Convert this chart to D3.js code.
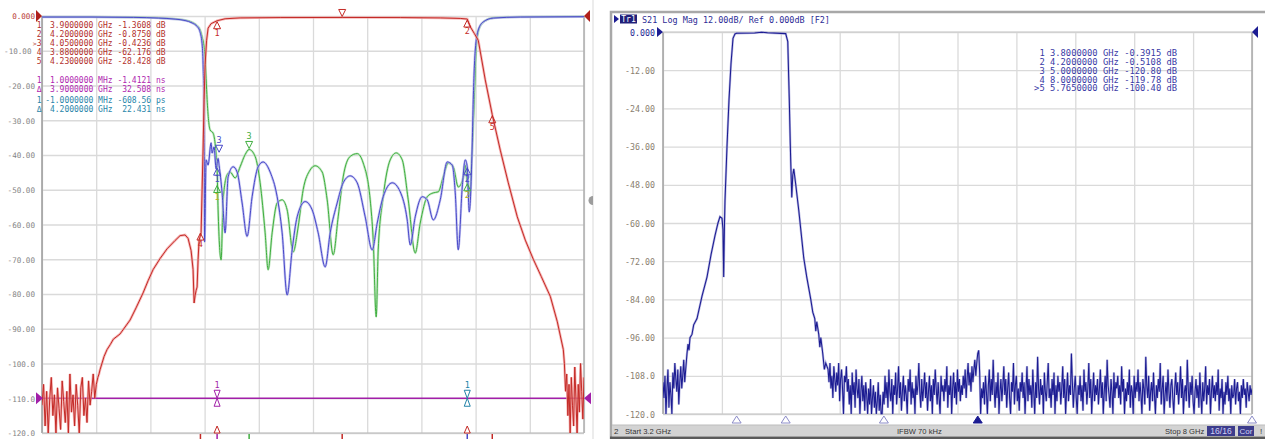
<!DOCTYPE html>
<html><head><meta charset="utf-8">
<script src="https://cdn.jsdelivr.net/npm/d3@7"></script>
<style>body{margin:0;background:#fff;overflow:hidden}svg{display:block}text{white-space:pre}</style>
</head><body>
<svg id="c" width="1265" height="439"></svg>
<script>
// ---------------- LEFT PANEL DATA (filter S-parameters, 10 dB/div) ----------------
const leftSweepGHz = [3.69, 4.34];
const leftDbTicks = [0,-10,-20,-30,-40,-50,-60,-70,-80,-90,-100,-110,-120];
const leftDbLabels = ["0.000","-10.00","-20.00","-30.00","-40.00","-50.00","-60.00","-70.00","-80.00","-90.00","-100.0","-110.0","-120.0"];

// S21 noise floor below 3.757 GHz (sweep points 3.690 .. 3.757)
const s21LowNoiseGHz = [3.690, 3.757];
const s21LowNoise = [-112,-106,-118,-108,-120,-110,-104,-115,-109,-120,-107,-113,-119,-105,-111,-117,-108,-120,-103,-114,-109,-118,-106,-112,-120,-107,-104,-115,-110,-117,-105,-112,-108,-103,-110,-106,-104];
// S21 main response [GHz, dB]
const s21Curve = [[3.7584,-103],[3.7596,-101.8],[3.7644,-98],[3.768,-96],[3.772,-94.5],[3.7756,-93],[3.7836,-91.5],[3.7896,-89.5],[3.7956,-87.5],[3.8028,-84],[3.8112,-79.7],[3.8172,-76.2],[3.8232,-73],[3.8316,-69.8],[3.84,-67],[3.8496,-64.6],[3.8556,-63.2],[3.8616,-63],[3.8652,-64],[3.8688,-67.5],[3.8712,-73],[3.8724,-82.6],[3.8736,-80.5],[3.8748,-79],[3.876,-78],[3.8772,-70],[3.8784,-64.5],[3.8808,-62.4],[3.882,-50],[3.8832,-38],[3.8844,-24],[3.8856,-14],[3.8874,-7],[3.8892,-3.5],[3.8928,-2.2],[3.9,-1.36],[3.9096,-0.8],[3.9276,-0.55],[3.9756,-0.45],[4.05,-0.42],[4.1196,-0.45],[4.1676,-0.55],[4.1916,-0.7],[4.2,-0.875],[4.2036,-3.1],[4.2084,-5],[4.2132,-7],[4.2216,-18.4],[4.23,-28.43],[4.2396,-38.6],[4.2492,-48],[4.26,-57.8],[4.2696,-64.5],[4.2792,-70],[4.2888,-75],[4.2996,-80.7],[4.308,-88],[4.3152,-96]];
// S21 noise floor above 4.3165 GHz
const s21HighNoiseGHz = [4.3165, 4.340];
const s21HighNoise = [-100,-108,-103,-115,-106,-120,-104,-112,-118,-101,-110,-120,-106,-114,-100,-108,-116,-104];

// S11 (blue) [GHz, dB]
const s11Curve = [[3.69,-0.3],[3.75,-0.3],[3.80,-0.4],[3.83,-0.6],[3.8496,-0.9],[3.8616,-1.3],[3.87,-2],[3.876,-3],[3.879,-4.2],[3.882,-8],[3.8832,-14],[3.8844,-30],[3.885,-65],[3.8868,-41.4],[3.8892,-42.9],[3.8928,-36.5],[3.894,-39.4],[3.8964,-37.7],[3.8988,-44],[3.9012,-41],[3.9024,-43],[3.906,-50.9],[3.9096,-62.4],[3.9132,-46.3],[3.9192,-43.4],[3.924,-44.9],[3.93,-53.8],[3.936,-63.4],[3.942,-52],[3.9492,-43.4],[3.9552,-42],[3.9636,-44.9],[3.972,-52],[3.978,-62.4],[3.984,-80.3],[3.99,-67.3],[3.996,-57.8],[4.0056,-53.4],[4.014,-55.8],[4.0212,-62.4],[4.0296,-72.2],[4.0356,-62.4],[4.044,-53.8],[4.0512,-48],[4.0596,-46],[4.068,-48],[4.0776,-57.8],[4.086,-67.3],[4.092,-59.6],[4.0992,-52],[4.11,-48],[4.1196,-50.6],[4.128,-58.7],[4.1316,-65.9],[4.1376,-57.8],[4.146,-52],[4.152,-52.9],[4.1592,-58.7],[4.1676,-52.9],[4.176,-42],[4.182,-42.9],[4.1856,-50.9],[4.1892,-67.3],[4.194,-49.2],[4.1976,-41.4],[4.2,-43.4],[4.2024,-56.4],[4.206,-36.5],[4.2072,-24],[4.2096,-9.8],[4.2132,-4],[4.2192,-1.7],[4.2312,-0.6],[4.2636,-0.3],[4.34,-0.2]];
// S22 (green) [GHz, dB]
const s22Curve = [[3.69,-0.25],[3.75,-0.25],[3.80,-0.35],[3.83,-0.55],[3.8496,-0.85],[3.8616,-1.2],[3.87,-1.8],[3.876,-2.8],[3.8796,-4],[3.882,-6],[3.8844,-9],[3.8856,-12],[3.8868,-18],[3.888,-24],[3.8916,-32.8],[3.8952,-33.7],[3.9,-44.3],[3.9012,-55.8],[3.9048,-70.2],[3.9072,-52.9],[3.912,-45.7],[3.9156,-44.9],[3.9216,-46.6],[3.9276,-43.4],[3.9336,-39.9],[3.9384,-38.4],[3.9456,-40.4],[3.9516,-48],[3.9576,-62.4],[3.9612,-73],[3.966,-62.4],[3.972,-53.8],[3.978,-52.9],[3.984,-55.8],[3.9912,-67.9],[3.9972,-60.7],[4.0032,-50],[4.0116,-44.3],[4.0176,-43.1],[4.026,-44.9],[4.032,-52.9],[4.0392,-68.7],[4.0452,-57.8],[4.0512,-46.3],[4.0596,-40.4],[4.068,-39.6],[4.0752,-42.3],[4.0836,-52.9],[4.0872,-64.4],[4.0908,-86.6],[4.0932,-67.3],[4.0992,-52],[4.1076,-41.4],[4.1148,-39.4],[4.122,-41.4],[4.1292,-52.9],[4.1376,-68.2],[4.1436,-59.6],[4.152,-52],[4.1592,-50.9],[4.1652,-50.6],[4.1712,-46.3],[4.1772,-42.3],[4.1832,-43.4],[4.1892,-49.2],[4.1952,-46.6],[4.1976,-42.9],[4.2,-48],[4.2024,-52],[4.206,-38.4],[4.2084,-24],[4.2108,-9],[4.2144,-3.5],[4.2204,-1.5],[4.2324,-0.5],[4.2636,-0.25],[4.34,-0.15]];
// group delay traces sit on the -110 reference line
const delayLine = [[3.69,-110],[4.34,-110]];

// marker table (left): id, stimulus, unit, response, unit, trace
const leftTable = [
 ["1","3.9000000","GHz","-1.3608","dB","s21"],
 ["2","4.2000000","GHz","-0.8750","dB","s21"],
 [">3","4.0500000","GHz","-0.4236","dB","s21"],
 ["4","3.8800000","GHz","-62.176","dB","s21"],
 ["5","4.2300000","GHz","-28.428","dB","s21"],
 ["1","1.0000000","MHz","-1.4121","ns","gd1"],
 ["Δ","3.9000000","GHz","32.508","ns","gd1"],
 ["1","-1.0000000","MHz","-608.56","ps","gd2"],
 ["Δ","4.2000000","GHz","22.431","ns","gd2"]
];
const leftTableBaselines = [28,37,46,55,64,83,92,103,112];
const s21Markers = [["1",3.9,-1.3608,"up"],["2",4.2,-0.875,"up"],["3",4.05,-0.4236,"down"],["4",3.88,-62.176,"up"],["5",4.23,-28.428,"up"]];
const s11Markers = [["3",3.9024,-39.5,"down"],["1",3.9,-43.5,"up"],["2",4.2,-43.4,"up"]];
const s22Markers = [["3",3.9384,-38.4,"down"],["1",3.9,-48.5,"up"],["2",4.2,-48,"up"]];
const gdMarkers = [["1",3.9,-110,"gd1"],["1",4.2,-110,"gd2"]];

// ---------------- RIGHT PANEL DATA (wideband S21, 12 dB/div) ----------------
const rightSweepGHz = [3.2, 8.0];
const rightDbTicks = [0,-12,-24,-36,-48,-60,-72,-84,-96,-108,-120];
const rightDbLabels = ["0.000","-12.00","-24.00","-36.00","-48.00","-60.00","-72.00","-84.00","-96.00","-108.0","-120.0"];
const wbLowNoiseGHz = [3.2, 3.385];
const wbLowNoise = [-110,-115,-108,-120,-112,-106,-118,-110,-114,-120,-107,-112,-104,-109,-113,-106,-117,-110,-105,-112,-108,-103,-110,-106];
const wbCurve = [[3.3956,-101],[3.404,-98],[3.412,-100],[3.42,-96],[3.4363,-95],[3.45,-92],[3.4771,-90],[3.5178,-83],[3.5586,-77],[3.5912,-70],[3.6237,-64],[3.6482,-60],[3.6645,-58],[3.6808,-58.5],[3.6889,-62],[3.6946,-77],[3.7012,-60],[3.7052,-53],[3.7215,-36],[3.7378,-21.4],[3.7541,-10],[3.7704,-2],[3.7867,-0.6],[3.8,-0.39],[3.9467,-0.3],[4.003,-0.05],[4.052,-0.25],[4.2,-0.51],[4.2168,-3],[4.2249,-15],[4.229,-21],[4.2372,-35],[4.2412,-41],[4.2494,-52],[4.2575,-45],[4.2657,-43],[4.282,-48],[4.3064,-56],[4.3471,-71],[4.3716,-77],[4.4042,-84],[4.4205,-88],[4.4368,-90],[4.445,-94],[4.453,-91],[4.4694,-95],[4.478,-99],[4.486,-96],[4.5019,-101],[4.515,-106],[4.5264,-104]];
const wbHighNoiseGHz = [4.545, 8.0];
const wbHighNoise = [
 -106,-110,-104,-112,-108,-115,-105,-109,-113,-107,-111,-104,-116,-109,-106,-112,-120,-108,-110,-105,
 -113,-109,-117,-111,-120,-107,-114,-110,-118,-106,-112,-115,-109,-120,-113,-108,-116,-111,-119,-110,
 -114,-120,-112,-117,-109,-120,-115,-111,-118,-113,-120,-116,-110,-119,-114,-120,-120,-113,-117,-108,
 -115,-110,-118,-106,-113,-116,-109,-120,-111,-114,-107,-117,-112,-105,-115,-110,-119,-113,-108,-116,
 -111,-114,-120,-109,-113,-106,-117,-110,-115,-112,-120,-108,-114,-111,-104,-113,-118,-109,-116,-112,
 -107,-115,-110,-119,-113,-108,-116,-111,-120,-109,-114,-106,-112,-117,-110,-115,-120,-108,-113,-111,
 -116,-109,-113,-105,-118,-111,-114,-108,-120,-112,-107,-115,-110,-117,-106,-113,-109,-116,-111,-114,
 -108,-112,-106,-115,-109,-104,-111,-107,-113,-105,-110,-106,-103,-108,-104,-101,-100,-107,-120,-112,
 -115,-110,-117,-108,-113,-120,-111,-106,-116,-109,-114,-103,-112,-118,-110,-115,-107,-120,-113,-109,
 -116,-111,-105,-114,-109,-118,-112,-107,-115,-120,-110,-113,-104,-117,-111,-108,-116,-112,-119,-110,
 -113,-107,-115,-110,-120,-112,-105,-116,-109,-114,-111,-118,-106,-113,-120,-110,-115,-102,-112,-117,
 -109,-114,-111,-120,-107,-113,-116,-110,-104,-115,-112,-118,-109,-114,-107,-120,-111,-116,-108,-113,
 -110,-117,-112,-105,-115,-109,-120,-113,-107,-116,-111,-114,-101,-110,-118,-112,-108,-115,-120,-111,
 -114,-108,-116,-111,-119,-106,-113,-110,-117,-112,-104,-115,-109,-120,-113,-107,-116,-111,-114,-109,
 -117,-112,-106,-115,-110,-120,-113,-108,-116,-103,-111,-114,-118,-109,-113,-120,-107,-115,-110,-112,
 -108,-115,-111,-117,-105,-113,-109,-120,-112,-116,-110,-114,-106,-118,-111,-113,-120,-108,-115,-110,
 -113,-106,-116,-110,-114,-120,-109,-112,-117,-102,-111,-115,-108,-119,-113,-110,-116,-107,-114,-120,
 -111,-115,-109,-113,-104,-117,-112,-108,-120,-114,-110,-116,-106,-113,-118,-111,-109,-115,-120,-112,
 -107,-114,-110,-117,-112,-105,-115,-109,-120,-113,-111,-116,-103,-112,-118,-110,-114,-108,-116,-120,
 -113,-109,-115,-111,-118,-107,-114,-120,-110,-116,-112,-105,-117,-111,-114,-109,-120,-113,-108,-115,
 -111,-116,-110,-114,-106,-119,-112,-115,-109,-120,-113,-117,-110,-114,-108,-116,-112,-120,-111,-115,
 -114,-109,-117,-112,-110,-116,-113,-120,-111,-115,-109,-114,-112,-118,-110,-113,-116,-111,-114,-112
];
const rightTable = [
 ["1","3.8000000","GHz","-0.3915","dB"],
 ["2","4.2000000","GHz","-0.5108","dB"],
 ["3","5.0000000","GHz","-120.80","dB"],
 ["4","8.0000000","GHz","-119.78","dB"],
 [">5","5.7650000","GHz","-100.40","dB"]
];
const rightTableBaselines = [56,65,74,82.5,91];
const wbMarkers = [["1",3.8,-0.39,"up"],["2",4.2,-0.51,"up"],["5",5.765,-100.4,"down"]];
const wbMarkerPositions = [[3.8,"open"],[4.2,"open"],[5.0,"open"],[5.765,"active"],[8.0,"open"]];

// ---------------- DRAWING ----------------
const C = {s21:"#c42a26", s21h:"#f2a0a0", s11:"#4848c8", s11h:"#b4b4ee", s22:"#3fae3f", s22h:"#b6e2b6",
  gd1:"#a21fa8", gd2:"#2283a8", grid:"#dadada", lab:"#858585", navy:"#1c1c92", navyh:"#9a9ad6"};
const MONO = "DejaVu Sans Mono";
const svg = d3.select("#c");
const defs = svg.append("defs");

function label(g, s, x, y, o) {
  return g.append("text").attr("x", x).attr("y", y).text(s)
    .attr("font-family", o.family || MONO).attr("font-size", o.size)
    .attr("fill", o.color).attr("text-anchor", o.anchor || "start")
    .attr("xml:space", "preserve");
}
function sweep(range, vals) {
  return vals.map((v, i) => [range[0] + (range[1] - range[0]) * i / (vals.length - 1), v]);
}
function tri(g, x, y, dir, w, h, fill, stroke) {
  const p = dir === "up" ? `M${x},${y} L${x - w/2},${y + h} L${x + w/2},${y + h} Z`
                         : `M${x},${y} L${x - w/2},${y - h} L${x + w/2},${y - h} Z`;
  return g.append("path").attr("d", p).attr("fill", fill).attr("stroke", stroke).attr("stroke-width", 1);
}
function styleAxis(sel, size, color) {
  sel.select(".domain").remove();
  sel.selectAll(".tick line").attr("stroke", C.grid).attr("stroke-width", 1.3);
  sel.selectAll(".tick text").attr("font-family", MONO).attr("font-size", size).attr("fill", color);
}

// ===== LEFT PANEL =====
const L = {x0: 42, x1: 584, y0: 16, y1: 433};
const xL = d3.scaleLinear().domain(leftSweepGHz).range([L.x0, L.x1]);
const yL = d3.scaleLinear().domain([0, -120]).range([L.y0, L.y1]);
const gLeft = svg.append("g");
const leftGrid = d3.range(11).map(i => leftSweepGHz[0] + i * (leftSweepGHz[1] - leftSweepGHz[0]) / 10);
gLeft.append("g").attr("transform", `translate(0,${L.y1})`)
  .call(d3.axisBottom(xL).tickValues(leftGrid).tickSize(-(L.y1 - L.y0)).tickFormat(""))
  .call(s => styleAxis(s, 7.5, C.lab));
gLeft.append("g").attr("transform", `translate(${L.x0},0)`)
  .call(d3.axisLeft(yL).tickValues(leftDbTicks).tickFormat((d, i) => leftDbLabels[i]).tickSize(-(L.x1 - L.x0)).tickPadding(7))
  .call(s => styleAxis(s, 7.6, C.lab))
  .call(s => s.selectAll(".tick text").attr("dy", "0.36em"))
  .call(s => s.selectAll(".tick text").filter((d, i) => i === 0).attr("fill", "#b83a34"))
  .call(s => s.selectAll(".tick text").filter((d, i) => i === 1).attr("dx", -3.5));
// frame
gLeft.append("line").attr("x1", L.x0).attr("x2", L.x0).attr("y1", L.y0).attr("y2", L.y1).attr("stroke", "#9a9a9a").attr("stroke-width", 1.5);
gLeft.append("line").attr("x1", L.x1).attr("x2", L.x1).attr("y1", L.y0).attr("y2", L.y1).attr("stroke", "#b2b2b2").attr("stroke-width", 1.6);
gLeft.append("line").attr("x1", L.x0).attr("x2", L.x1).attr("y1", L.y1).attr("y2", L.y1).attr("stroke", "#b8b8b8").attr("stroke-width", 1.2);
gLeft.append("line").attr("x1", 593).attr("x2", 593).attr("y1", 0).attr("y2", 439).attr("stroke", "#ececec").attr("stroke-width", 2);
gLeft.append("path").attr("d", "M593,196 A4,4 0 0 0 593,205 Z").attr("fill", "#9c9c9c");

defs.append("clipPath").attr("id", "clipL").append("rect").attr("x", L.x0).attr("y", 0).attr("width", L.x1 - L.x0).attr("height", L.y1 + 0.5);
const traceL = gLeft.append("g").attr("clip-path", "url(#clipL)");
const lineL = d3.line().x(d => xL(d[0])).y(d => yL(Math.max(-120, d[1])));
const smoothL = d3.line().x(d => xL(d[0])).y(d => yL(d[1])).curve(d3.curveMonotoneX);

traceL.append("path").datum(delayLine).attr("d", lineL).attr("fill", "none").attr("stroke", C.gd1).attr("stroke-width", 1.6);
[[s22Curve, C.s22, C.s22h], [s11Curve, C.s11, C.s11h]].forEach(([data, c, h]) => {
  traceL.append("path").datum(data).attr("d", smoothL).attr("fill", "none").attr("stroke", h).attr("stroke-width", 2.4).attr("opacity", 0.8);
  traceL.append("path").datum(data).attr("d", smoothL).attr("fill", "none").attr("stroke", c).attr("stroke-width", 1);
});
const s21All = sweep(s21LowNoiseGHz, s21LowNoise).concat(s21Curve, sweep(s21HighNoiseGHz, s21HighNoise));
traceL.append("path").datum(s21All).attr("d", lineL).attr("fill", "none").attr("stroke", C.s21h).attr("stroke-width", 2.6).attr("opacity", 0.75);
traceL.append("path").datum(s21All).attr("d", lineL).attr("fill", "none").attr("stroke", C.s21).attr("stroke-width", 1);

// markers on traces
const mk = svg.append("g");
function drawMarkers(list, xs, ys, color, labelColor, yMin) {
  list.forEach(([id, f, v, dir]) => {
    const x = xs(f), y = ys(v);
    if (dir === "up") {
      tri(mk, x, y + 1, "up", 7, 7, "none", color);
      label(mk, id, x, y + 15, {size: 8.5, color: labelColor || color, anchor: "middle"});
    } else {
      tri(mk, x, y - 1, "down", 7, 7, "none", color);
      if (y - 10 > (yMin || 0)) label(mk, id, x, y - 10, {size: 8.5, color: labelColor || color, anchor: "middle"});
    }
  });
}
drawMarkers(s21Markers, xL, yL, C.s21, null, 14);
drawMarkers(s11Markers, xL, yL, C.s11);
drawMarkers(s22Markers.slice(0, 1), xL, yL, C.s22);
drawMarkers(s22Markers.slice(1), xL, yL, C.s22, "#b0b020");
gdMarkers.forEach(([id, f, v, k]) => {
  const x = xL(f), y = yL(v);
  tri(mk, x, y, "down", 6, 8, "none", C[k]);
  tri(mk, x, y, "up", 6, 8, "none", C[k]);
  label(mk, id, x, y - 10, {size: 8.5, color: C[k], anchor: "middle"});
});
[[3.9, C.s21], [4.2, C.s21]].forEach(([f, c]) => tri(mk, xL(f), 426, "up", 6, 7, "#fff", c));
[[3.88, C.s21], [3.9, C.gd1], [3.9384, C.s22], [4.05, C.s21], [4.2, C.s11], [4.23, C.s21]].forEach(([f, c]) =>
  mk.append("line").attr("x1", xL(f)).attr("x2", xL(f)).attr("y1", 434).attr("y2", 439).attr("stroke", c).attr("stroke-width", 1.5));
mk.append("path").attr("d", `M36,${yL(0) - 6} L42,${yL(0)} L36,${yL(0) + 6} Z`).attr("fill", "#b0201c");
mk.append("path").attr("d", `M590,${yL(0) - 6} L584,${yL(0)} L590,${yL(0) + 6} Z`).attr("fill", "#b0201c");
mk.append("path").attr("d", `M36,${yL(-110) - 6} L43,${yL(-110)} L36,${yL(-110) + 6} Z`).attr("fill", C.gd1);
mk.append("path").attr("d", `M591,${yL(-110) - 6} L584,${yL(-110)} L591,${yL(-110) + 6} Z`).attr("fill", C.gd1);

// left marker table: id column right-aligned, rest as one monospace row
const tcol = {s21: "#b3302c", gd1: "#b01fb0", gd2: "#2a86aa"};
leftTable.forEach(([id, f, u, v, vu, k], i) => {
  const y = leftTableBaselines[i];
  const t = label(mk, "", 41.5, y, {size: 8, color: tcol[k], anchor: "end"});
  if (id.length > 1) {
    t.append("tspan").attr("font-size", 6.5).text(id[0]);
    t.append("tspan").text(id.slice(1));
  } else t.text(id);
  const row = f.padStart(10) + " " + u + " " + v.padStart(7) + " " + vu;
  label(mk, row, 45.15, y, {size: 8, color: tcol[k]});
});

// ===== RIGHT PANEL =====
const R = {x0: 663, x1: 1252, y0: 32, y1: 414};
const xR = d3.scaleLinear().domain(rightSweepGHz).range([R.x0, R.x1]);
const yR = d3.scaleLinear().domain([0, -120]).range([R.y0, R.y1]);
const gR = svg.append("g");
gR.append("rect").attr("x", 611).attr("y", 12).attr("width", 660).attr("height", 440).attr("fill", "#fff").attr("stroke", "#a8a8a8").attr("stroke-width", 2.5);
const rightGrid = d3.range(11).map(i => rightSweepGHz[0] + i * (rightSweepGHz[1] - rightSweepGHz[0]) / 10);
gR.append("g").attr("transform", `translate(0,${R.y1})`)
  .call(d3.axisBottom(xR).tickValues(rightGrid).tickSize(-(R.y1 - R.y0)).tickFormat(""))
  .call(s => styleAxis(s, 8.3, C.lab));
gR.append("g").attr("transform", `translate(${R.x0},0)`)
  .call(d3.axisLeft(yR).tickValues(rightDbTicks).tickFormat((d, i) => rightDbLabels[i]).tickSize(-(R.x1 - R.x0)).tickPadding(8))
  .call(s => styleAxis(s, 8.3, "#8a8070"))
  .call(s => s.selectAll(".tick text").attr("dy", "0.36em").filter((d, i) => i === 0).attr("fill", C.navy));
gR.append("line").attr("x1", R.x0).attr("x2", R.x0).attr("y1", R.y0).attr("y2", R.y1).attr("stroke", "#a0a0a0").attr("stroke-width", 1.5);
gR.append("line").attr("x1", R.x1).attr("x2", R.x1).attr("y1", R.y0).attr("y2", R.y1).attr("stroke", "#a8a8a8").attr("stroke-width", 1.5);
gR.append("line").attr("x1", R.x0).attr("x2", R.x1).attr("y1", R.y1).attr("y2", R.y1).attr("stroke", "#c4c4c4").attr("stroke-width", 1);
gR.append("line").attr("x1", R.x0).attr("x2", R.x1).attr("y1", R.y0).attr("y2", R.y0).attr("stroke", "#c8c8c8").attr("stroke-width", 1);

defs.append("clipPath").attr("id", "clipR").append("rect").attr("x", R.x0).attr("y", R.y0 - 2).attr("width", R.x1 - R.x0).attr("height", R.y1 - R.y0 + 2.5);
const traceR = gR.append("g").attr("clip-path", "url(#clipR)");
const lineR = d3.line().x(d => xR(d[0])).y(d => yR(Math.max(-120, d[1])));
const wbAll = sweep(wbLowNoiseGHz, wbLowNoise).concat(wbCurve, sweep(wbHighNoiseGHz, wbHighNoise));
traceR.append("path").datum(wbAll).attr("d", lineR).attr("fill", "none").attr("stroke", C.navyh).attr("stroke-width", 2.3).attr("opacity", 0.7);
traceR.append("path").datum(wbAll).attr("d", lineR).attr("fill", "none").attr("stroke", C.navy).attr("stroke-width", 1.05);

drawMarkers(wbMarkers, xR, yR, "#5a5ab0");
wbMarkerPositions.forEach(([f, kind]) => {
  tri(gR, xR(f), 416, "up", 9, 7, kind === "active" ? C.navy : "#fff", kind === "active" ? C.navy : "#8c8cc8");
});
gR.append("path").attr("d", `M657,${R.y0 - 5} L663,${R.y0} L657,${R.y0 + 5} Z`).attr("fill", C.navy);
gR.append("path").attr("d", `M1258,${R.y0 - 6} L1252,${R.y0} L1258,${R.y0 + 6} Z`).attr("fill", C.navy);

// header
gR.append("path").attr("d", "M614,15 L619,19 L614,23 Z").attr("fill", C.navy);
gR.append("rect").attr("x", 620).attr("y", 14.5).attr("width", 17).attr("height", 9).attr("fill", "#20207a");
label(gR, "Tr1", 628.5, 22, {size: 8, color: "#fff", anchor: "middle"});
label(gR, "S21 Log Mag 12.00dB/ Ref 0.000dB [F2]", 642, 22.5, {size: 8.45, color: "#2c2c96"});

// right marker table
rightTable.forEach(([id, f, u, v, vu], i) => {
  const row = id.padStart(2) + " " + f + " " + u + " " + v.padStart(7) + " " + vu;
  label(gR, row, 1034.1, rightTableBaselines[i], {size: 8.8, color: "#3a3aa6"});
});

// status bar
const SANS = "Liberation Sans";
gR.append("rect").attr("x", 612).attr("y", 425).attr("width", 653).attr("height", 11.5).attr("fill", "#d3d3d3");
gR.append("line").attr("x1", 612).attr("x2", 1265).attr("y1", 425).attr("y2", 425).attr("stroke", "#bdbdbd");
gR.append("rect").attr("x", 610).attr("y", 436.5).attr("width", 655).attr("height", 3).attr("fill", "#5a5a5a");
label(gR, "2", 614, 434, {size: 8, color: "#333", family: SANS});
label(gR, "Start 3.2 GHz", 625, 434, {size: 7.6, color: "#333", family: SANS});
label(gR, "IFBW 70 kHz", 897, 434, {size: 7.6, color: "#333", family: SANS});
label(gR, "Stop 8 GHz", 1165, 434, {size: 7.6, color: "#333", family: SANS});
gR.append("rect").attr("x", 1207).attr("y", 426).attr("width", 28).attr("height", 10).attr("fill", "#3c3c8c");
label(gR, "16/16", 1221, 434, {size: 8.5, color: "#d0d0f4", anchor: "middle", family: SANS});
gR.append("rect").attr("x", 1238).attr("y", 426).attr("width", 16).attr("height", 10).attr("fill", "#3c3c8c");
label(gR, "Cor", 1246, 434, {size: 8, color: "#d0d0f4", anchor: "middle", family: SANS});
label(gR, "!", 1261, 434, {size: 8, color: "#333", anchor: "middle", family: SANS});
</script></body></html>
